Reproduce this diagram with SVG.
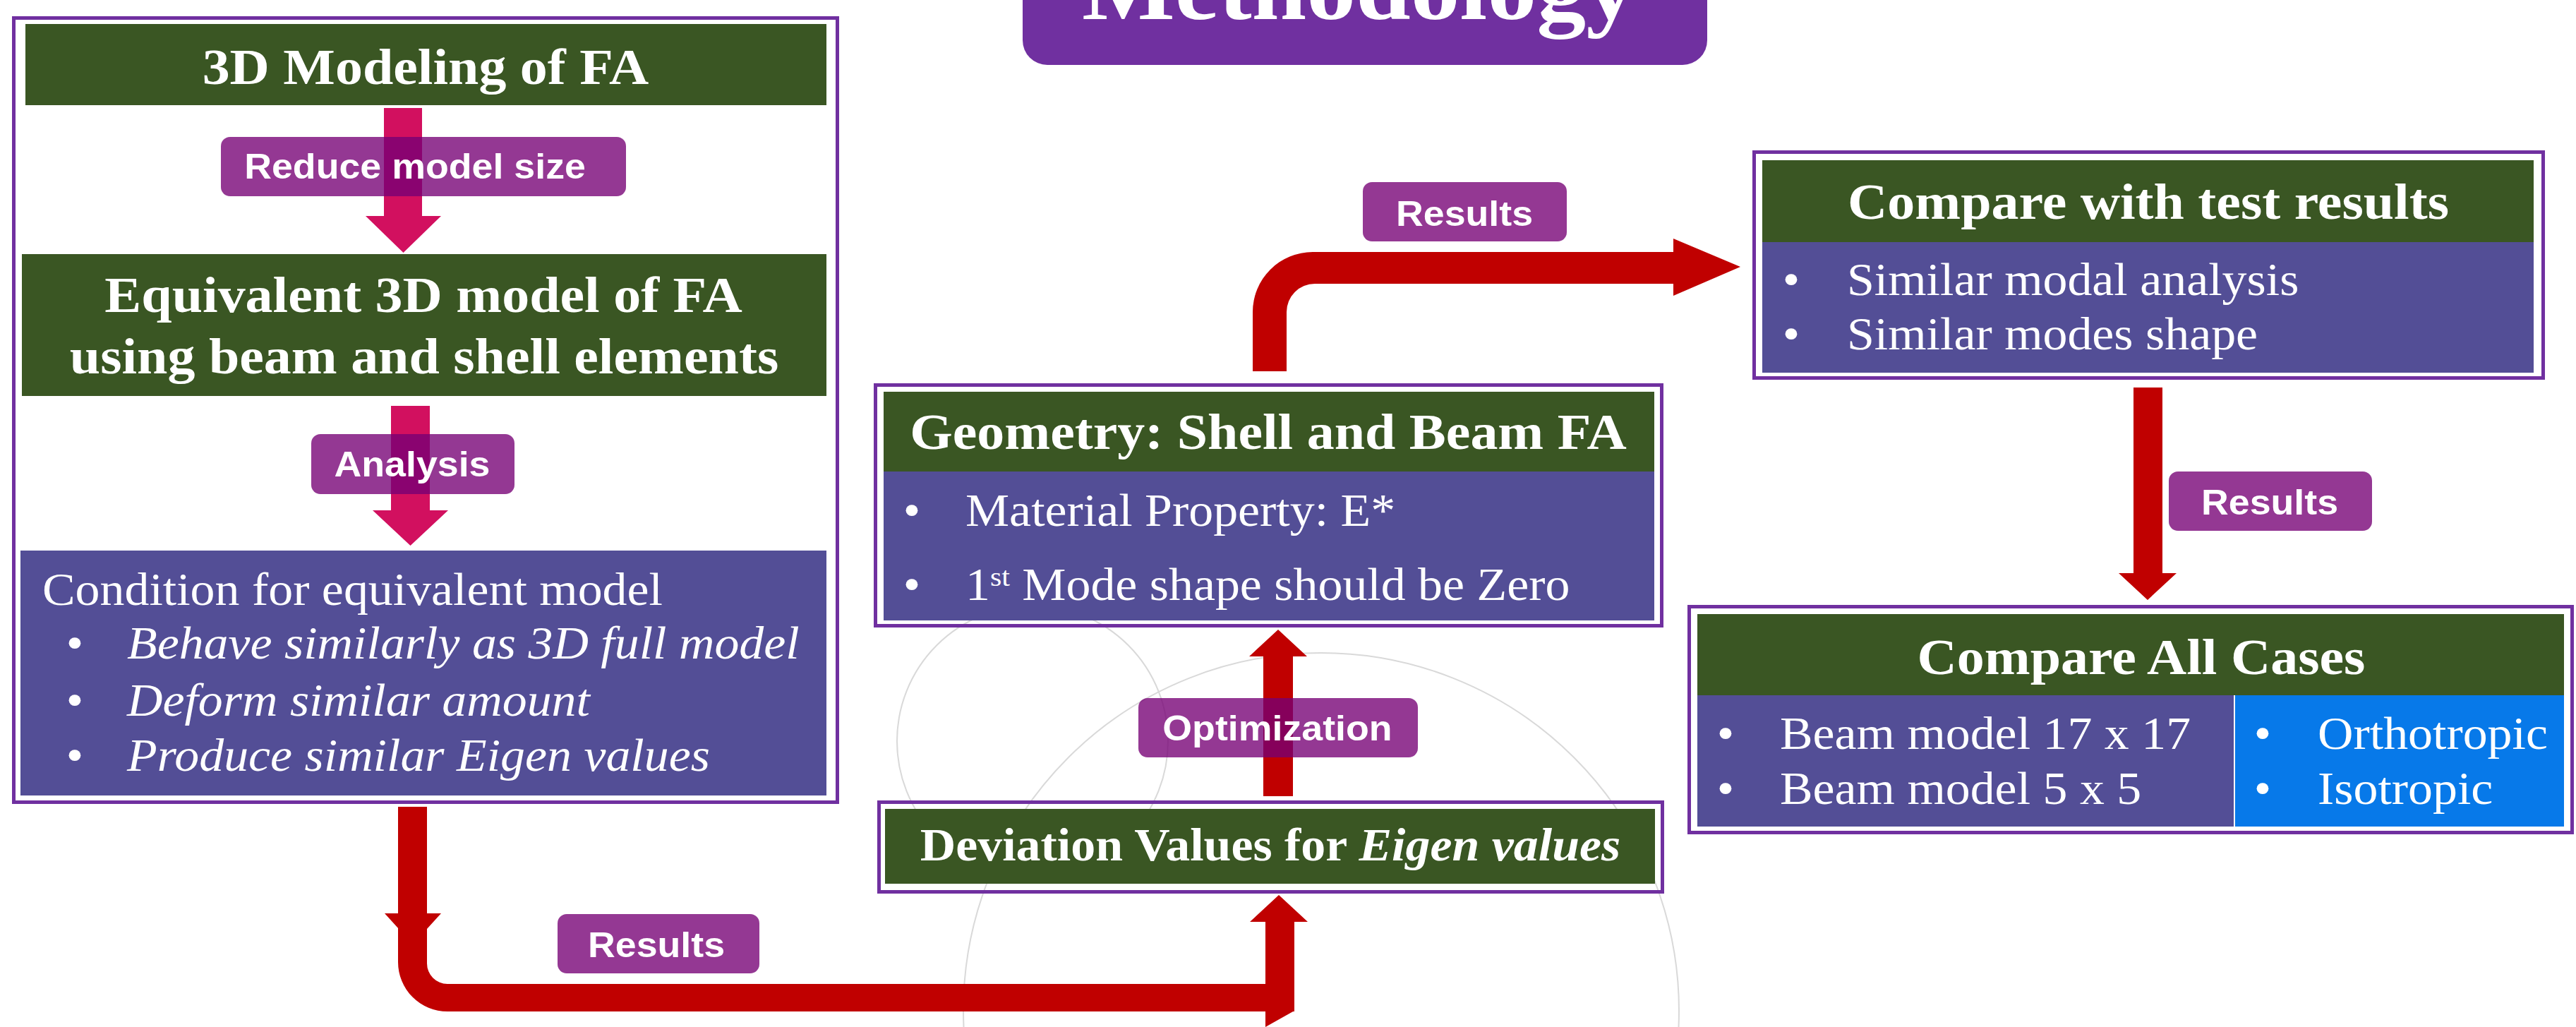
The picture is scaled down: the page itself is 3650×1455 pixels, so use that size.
<svg xmlns="http://www.w3.org/2000/svg" width="3650" height="1455" viewBox="0 0 3650 1455">
<style>
.frame{fill:none;stroke:#7030A0;stroke-width:5}
.green{fill:#3A5623}
.body{fill:#534E96}
.blue{fill:#0779E9}
.red{fill:#C00000}
.pink{fill:#D2105F}
.lbl{fill:#760075;fill-opacity:0.78}
.circ{fill:none;stroke:#D9D9D9;stroke-width:2}
.lt{font-family:"Liberation Sans",Arial,sans-serif;font-weight:bold;font-size:50px;fill:#fff;text-anchor:middle}
.hd{font-family:"Liberation Serif","Times New Roman",serif;font-weight:bold;font-size:72.5px;fill:#fff;text-anchor:middle}
.tx{font-family:"Liberation Serif","Times New Roman",serif;font-size:65px;fill:#fff}
.it{font-style:italic}
.bu{font-family:"Liberation Serif","Times New Roman",serif;font-size:65px;fill:#fff;text-anchor:middle}
.ttl{font-family:"Liberation Serif","Times New Roman",serif;font-weight:bold;font-size:130px;fill:#fff;text-anchor:middle}
</style>
<rect width="3650" height="1455" fill="#fff"/>
<g id="background">
<circle class="circ" cx="1463" cy="1050" r="192"/>
<circle class="circ" cx="1872" cy="1432" r="507"/>
</g>
<g id="title">
<rect x="1449" y="-40" width="970" height="132" rx="35" fill="#7030A0"/>
<text class="ttl" transform="translate(1925,27) scale(1.075,1)">Methodology</text>
</g>
<g id="left-panel">
<rect class="frame" x="19.5" y="25.5" width="1167" height="1111"/>
</g>
<g id="n-3d-modeling">
<rect class="green" x="36" y="34" width="1135" height="115"/>
<text class="hd" transform="translate(603,118.5) scale(1.075,1)">3D Modeling of FA</text>
</g>
<g id="n-equivalent">
<rect class="green" x="31" y="360" width="1140" height="201"/>
<text class="hd" transform="translate(600,442) scale(1.075,1)">Equivalent 3D model of FA</text>
<text class="hd" transform="translate(601,529) scale(1.075,1)">using beam and shell elements</text>
</g>
<g id="n-condition">
<rect class="body" x="29" y="780" width="1142" height="347"/>
<text class="tx" transform="translate(60,857) scale(1.075,1)">Condition for equivalent model</text>
<text class="bu" transform="translate(106,933) scale(1.075,1)">•</text>
<text class="bu" transform="translate(106,1014) scale(1.075,1)">•</text>
<text class="bu" transform="translate(106,1092) scale(1.075,1)">•</text>
<text class="tx it" transform="translate(180,933) scale(1.075,1)">Behave similarly as 3D full model</text>
<text class="tx it" transform="translate(180,1014) scale(1.075,1)">Deform similar amount</text>
<text class="tx it" transform="translate(180,1092) scale(1.075,1)">Produce similar Eigen values</text>
</g>
<g id="n-geometry">
<rect class="frame" x="1240.5" y="545.5" width="1114" height="341"/>
<rect class="green" x="1252" y="555" width="1092" height="113"/>
<text class="hd" transform="translate(1797,636) scale(1.075,1)">Geometry: Shell and Beam FA</text>
<rect class="body" x="1252" y="668" width="1092" height="211"/>
<text class="bu" transform="translate(1292,745) scale(1.075,1)">•</text>
<text class="bu" transform="translate(1292,850) scale(1.075,1)">•</text>
<text class="tx" transform="translate(1368,745) scale(1.075,1)">Material Property: E*</text>
<text class="tx" transform="translate(1368,850) scale(1.075,1)">1<tspan font-size="39" dy="-20">st</tspan><tspan dy="20"> Mode shape should be Zero</tspan></text>
</g>
<g id="n-deviation">
<rect class="frame" x="1245.5" y="1136.5" width="1110" height="127"/>
<rect class="green" x="1254" y="1146" width="1091" height="106"/>
<text class="tx" font-weight="bold" text-anchor="middle" transform="translate(1800,1219) scale(1.075,1)">Deviation Values for <tspan font-style="italic">Eigen values</tspan></text>
</g>
<g id="n-compare-test">
<rect class="frame" x="2485.5" y="215.5" width="1118" height="320"/>
<rect class="green" x="2497" y="227" width="1093" height="116"/>
<text class="hd" transform="translate(3044,310) scale(1.075,1)">Compare with test results</text>
<rect class="body" x="2497" y="343" width="1093" height="185"/>
<text class="bu" transform="translate(2538,418) scale(1.075,1)">•</text>
<text class="bu" transform="translate(2538,495) scale(1.075,1)">•</text>
<text class="tx" transform="translate(2617,418) scale(1.075,1)">Similar modal analysis</text>
<text class="tx" transform="translate(2617,495) scale(1.075,1)">Similar modes shape</text>
</g>
<g id="n-compare-all">
<rect class="frame" x="2393.5" y="859.5" width="1251" height="320"/>
<rect class="green" x="2405" y="870" width="1228" height="115"/>
<text class="hd" transform="translate(3034,955) scale(1.075,1)">Compare All Cases</text>
<rect class="body" x="2405" y="985" width="760" height="186"/>
<rect class="blue" x="3167" y="985" width="466" height="186"/>
<text class="bu" transform="translate(2445,1061) scale(1.075,1)">•</text>
<text class="bu" transform="translate(2445,1139) scale(1.075,1)">•</text>
<text class="tx" transform="translate(2522,1061) scale(1.075,1)">Beam model 17 x 17</text>
<text class="tx" transform="translate(2522,1139) scale(1.075,1)">Beam model 5 x 5</text>
<text class="bu" transform="translate(3206,1061) scale(1.075,1)">•</text>
<text class="bu" transform="translate(3206,1139) scale(1.075,1)">•</text>
<text class="tx" transform="translate(3284,1061) scale(1.075,1)">Orthotropic</text>
<text class="tx" transform="translate(3284,1139) scale(1.075,1)">Isotropic</text>
</g>
<g id="connectors">
<polygon class="pink" points="544,153 598,153 598,306 625,306 571.5,358 518,306 544,306"/>
<polygon class="pink" points="554,575 609,575 609,723 635,723 581.5,773 528,723 554,723"/>
<polygon class="red" points="1790,1128 1832,1128 1832,930 1852,930 1811,892 1770,930 1790,930"/>
<path class="red" d="M1775,526 L1775,442 A85,85 0 0 1 1860,357 L2371,357 L2371,338 L2466,378 L2371,419 L2371,402 L1863,402 A40,40 0 0 0 1823,442 L1823,526 Z"/>
<polygon class="red" points="3023,549 3064,549 3064,812 3084,812 3043,850 3002,812 3023,812"/>
<polygon class="red" points="564,1143 605,1143 605,1294 625,1294 585,1338 545,1294 564,1294"/>
<path class="red" d="M564,1290 L564,1363 A70,70 0 0 0 634,1433 L1834,1433 L1834,1306 L1853,1306 L1812,1268 L1771,1306 L1793,1306 L1793,1394 L634,1394 A29,29 0 0 1 605,1365 L605,1290 Z"/>
<polygon class="red" points="1793,1432 1834,1432 1793,1455"/>
<g id="label-reduce">
<rect class="lbl" x="313" y="194" width="574" height="84" rx="13"/>
<text class="lt" transform="translate(588,253) scale(1.075,1)">Reduce model size</text>
</g>
<g id="label-analysis">
<rect class="lbl" x="441" y="615" width="288" height="85" rx="13"/>
<text class="lt" transform="translate(584,675) scale(1.075,1)">Analysis</text>
</g>
<g id="label-optimization">
<rect class="lbl" x="1613" y="989" width="396" height="84" rx="13"/>
<text class="lt" transform="translate(1810,1049) scale(1.075,1)">Optimization</text>
</g>
<g id="label-results-top">
<rect class="lbl" x="1931" y="258" width="289" height="84" rx="13"/>
<text class="lt" transform="translate(2075,320) scale(1.075,1)">Results</text>
</g>
<g id="label-results-right">
<rect class="lbl" x="3073" y="668" width="288" height="84" rx="13"/>
<text class="lt" transform="translate(3216,729) scale(1.075,1)">Results</text>
</g>
<g id="label-results-bottom">
<rect class="lbl" x="790" y="1295" width="286" height="84" rx="13"/>
<text class="lt" transform="translate(930,1356) scale(1.075,1)">Results</text>
</g>
</g>
</svg>
